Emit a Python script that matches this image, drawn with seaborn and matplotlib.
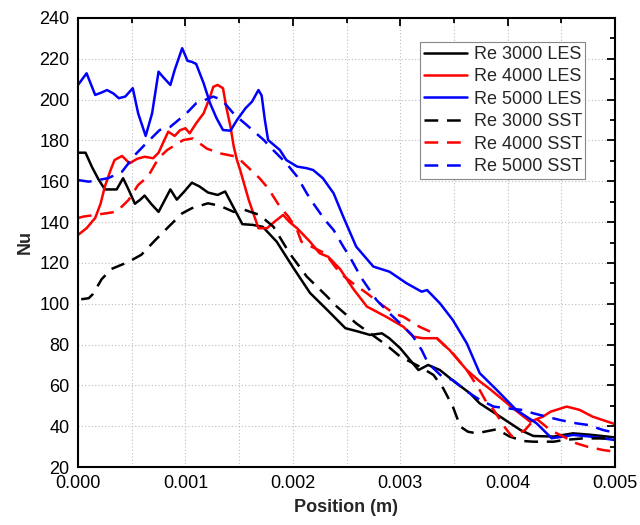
import numpy as np
import pandas as pd
import matplotlib
matplotlib.use("Agg")
import matplotlib.pyplot as plt
from matplotlib.ticker import MultipleLocator, FormatStrFormatter
from matplotlib.lines import Line2D
import seaborn as sns

# ---------------- data ----------------
labels = ["Re 3000 LES", "Re 4000 LES", "Re 5000 LES",
          "Re 3000 SST", "Re 4000 SST", "Re 5000 SST"]

x_3000_les = [0, 0.00007, 0.00013, 0.00019, 0.00025, 0.00031, 0.00036, 0.00042, 0.00047, 0.00053,
              0.00058, 0.00062, 0.00068, 0.00075, 0.00081, 0.00086, 0.00092, 0.00099, 0.00106, 0.00113,
              0.00121, 0.0013, 0.00137, 0.00143, 0.00148, 0.00153, 0.00163, 0.00172, 0.00185, 0.002,
              0.00216, 0.00232, 0.00249, 0.0026, 0.00272, 0.00283, 0.0029, 0.003, 0.00317, 0.00326,
              0.00337, 0.0035, 0.00365, 0.00374, 0.00393, 0.00412, 0.00424, 0.00443, 0.00461, 0.00479, 0.005]
y_3000_les = [174, 174, 167, 161, 156, 156, 156, 161.5, 156, 149,
              151, 153, 149, 145, 151, 156, 151, 155, 159.3, 157.5,
              154.5, 153.3, 155, 149, 144, 139, 138.6, 137.7, 130.4, 118,
              105.3, 97, 88, 86.5, 84.7, 85.5, 83, 78.2, 67.5, 70,
              67.5, 62, 56.1, 51.2, 44.7, 38.1, 35.2, 34.9, 36.5, 35.7, 34.5]

x_4000_les = [0, 0.00008, 0.00016, 0.00021, 0.00025, 0.0003, 0.00034, 0.00041, 0.00048, 0.00055,
              0.00062, 0.0007, 0.00075, 0.00084, 0.0009, 0.00095, 0.001, 0.00104, 0.0011, 0.00117,
              0.00123, 0.00126, 0.0013, 0.00135, 0.00138, 0.00142, 0.00145, 0.00148, 0.00151, 0.00159,
              0.00168, 0.00176, 0.00183, 0.00191, 0.00197, 0.00204, 0.00216, 0.00225, 0.00233, 0.00244,
              0.00256, 0.00269, 0.00287, 0.00303, 0.00312, 0.00321, 0.00334, 0.00346, 0.00362, 0.00374,
              0.00384, 0.00405, 0.00421, 0.00433, 0.0044, 0.00455, 0.00467, 0.00479, 0.005]
y_4000_les = [133.7, 137, 142, 149, 157.4, 165, 170.4, 172.4, 168.8, 171,
              172, 171.3, 174, 184.3, 182.2, 185, 186, 183.5, 188.4, 193.3,
              201.5, 206.3, 207.2, 205.6, 196.5, 186.7, 177, 170.4, 165.5, 150.8,
              137, 137, 140.2, 143.5, 140, 137, 130.4, 124.7, 123, 117,
              107.5, 98.6, 93.6, 88.7, 83.9, 83.1, 83.1, 77.3, 67.5, 62,
              58, 48.8, 42.2, 44.7, 47.1, 49.6, 48, 44.7, 41]

x_5000_les = [0, 0.00008, 0.00016, 0.00022, 0.00027, 0.00033, 0.00038, 0.00044, 0.00051, 0.00056,
              0.00063, 0.00069, 0.00075, 0.00079, 0.00086, 0.0009, 0.00097, 0.00102, 0.00106, 0.0011,
              0.00117, 0.00123, 0.00129, 0.00135, 0.00142, 0.00148, 0.00156, 0.00162, 0.00168, 0.00171,
              0.00174, 0.00177, 0.00188, 0.00194, 0.00204, 0.00213, 0.00219, 0.00228, 0.00238, 0.00247,
              0.00259, 0.00275, 0.0029, 0.00306, 0.0032, 0.00325, 0.00337, 0.00349, 0.00362, 0.00374,
              0.0039, 0.00408, 0.00427, 0.00441, 0.00452, 0.00461, 0.00477, 0.005]
y_5000_les = [207.2, 212.9, 202.3, 203.5, 204.7, 203, 200.7, 201.5, 205.6, 193.3,
              182.2, 193.3, 213.7, 211.2, 207.2, 214.5, 225.2, 219, 218.5, 217.5,
              208, 198.2, 190.9, 185.1, 184.8, 190, 195.8, 199, 204.7, 202,
              190, 180.2, 175.3, 170.4, 167.2, 166.4, 165.5, 161.5, 154.1, 142.6,
              128, 118.2, 115.7, 110, 105.9, 106.7, 100.2, 92, 80.6, 66,
              57.7, 48, 41.4, 34.1, 34.9, 35.7, 34.9, 33.2]

x_3000_sst = [0.00003, 0.0001, 0.00014, 0.00022, 0.00031, 0.00047, 0.00059, 0.00072, 0.00083, 0.00097,
              0.00106, 0.00121, 0.00132, 0.00145, 0.00155, 0.00169, 0.00182, 0.00197, 0.00213, 0.00232,
              0.00241, 0.00259, 0.00287, 0.003, 0.00318, 0.00331, 0.0034, 0.00349, 0.00356, 0.00363,
              0.00371, 0.0039, 0.00402, 0.00415, 0.00424, 0.00443, 0.00452, 0.0047, 0.005]
y_3000_sst = [102.2, 102.7, 104.8, 112, 117, 120.5, 124, 131.2, 137, 144.3,
              146.8, 149.2, 148, 145, 146, 143.5, 137.7, 124.7, 113.3, 103.5,
              98.6, 90.4, 79.8, 74.1, 69.2, 65.1, 58.6, 49.6, 39.8, 37.3,
              36.5, 38.5, 34.9, 32.7, 32.4, 32.4, 33.2, 34, 34]

x_4000_sst = [0, 0.00005, 0.00016, 0.00036, 0.00047, 0.00056, 0.00065, 0.00075, 0.00083, 0.00098,
              0.00107, 0.0012, 0.00132, 0.00148, 0.00169, 0.00177, 0.00188, 0.00196, 0.00204, 0.00208,
              0.0023, 0.00244, 0.00256, 0.00269, 0.00281, 0.00294, 0.00303, 0.00318, 0.00328, 0.00349,
              0.00362, 0.00374, 0.0038, 0.00387, 0.00398, 0.00404, 0.00416, 0.00426, 0.0044, 0.00449,
              0.00464, 0.00474, 0.00489, 0.005]
y_4000_sst = [142, 142.7, 143.5, 145.1, 150.8, 158.2, 162.2, 171.3, 175.3, 180.2,
              181, 176, 173.7, 172, 161.5, 156.6, 147.5, 142.6, 136.1, 130.4,
              124.7, 114.9, 110, 105.1, 100.2, 95.3, 93.6, 88.7, 86.3, 75.7,
              67.5, 57.7, 52, 48, 39, 35, 38, 44, 38, 35.7,
              31.6, 30, 28.3, 27.5]

x_5000_sst = [0, 0.0001, 0.00028, 0.00041, 0.00053, 0.00062, 0.00076, 0.00086, 0.00101, 0.0011,
              0.00118, 0.00126, 0.00134, 0.00146, 0.00157, 0.00173, 0.0018, 0.00194, 0.00204, 0.00213,
              0.00219, 0.0023, 0.00238, 0.00247, 0.00253, 0.00264, 0.00278, 0.0029, 0.003, 0.00311,
              0.0032, 0.00326, 0.00339, 0.00349, 0.00362, 0.00374, 0.00387, 0.00399, 0.00415, 0.00424,
              0.00436, 0.00449, 0.00464, 0.00475, 0.00489, 0.005]
y_5000_sst = [160.6, 159.8, 161.5, 164.7, 172.9, 177.8, 185.1, 186.7, 193.3, 198.2,
              199.8, 201.5, 199.8, 192.5, 187.6, 180.2, 176.2, 168.8, 162.3, 154.1,
              149.2, 141, 136.1, 128, 123, 112.5, 101.8, 95.3, 90.4, 84.7,
              77.3, 70.8, 64.3, 62.6, 57, 53, 49.6, 48.8, 47.9, 46.3,
              44.7, 43, 41.4, 40.6, 38.1, 36.8]

colors = ["#000000", "#FF0000", "#0000FF", "#000000", "#FF0000", "#0000FF"]
xticks_major = [0.000, 0.001, 0.002, 0.003, 0.004, 0.005]
yticks_major = list(range(20, 241, 20))

# ---------------- build long table ----------------
series_x = [x_3000_les, x_4000_les, x_5000_les, x_3000_sst, x_4000_sst, x_5000_sst]
series_y = [y_3000_les, y_4000_les, y_5000_les, y_3000_sst, y_4000_sst, y_5000_sst]
frames = []
for lab, xs, ys in zip(labels, series_x, series_y):
    frames.append(pd.DataFrame({"Position (m)": xs, "Nu": ys, "series": lab}))
df = pd.concat(frames, ignore_index=True)

# ---------------- style ----------------
sns.set_style("white")
plt.rcParams["font.family"] = ["Liberation Sans", "DejaVu Sans"]
plt.rcParams["font.size"] = 13
plt.rcParams["lines.solid_joinstyle"] = "round"
plt.rcParams["lines.dash_joinstyle"] = "round"
plt.rcParams["lines.solid_capstyle"] = "round"

fig = plt.figure(figsize=(6.4, 5.25), dpi=100)
ax = fig.add_axes([78 / 640, 1 - 467 / 525, (615 - 78) / 640, (467 - 18) / 525])

palette = dict(zip(labels, colors))
dash_map = {lab: ("" if "LES" in lab else (5.5, 3.5)) for lab in labels}

sns.lineplot(data=df, x="Position (m)", y="Nu", hue="series", style="series",
             hue_order=labels, style_order=labels, palette=palette, dashes=dash_map,
             estimator=None, sort=False, linewidth=1.8, ax=ax, legend=False)

ax.set_xlim(0, 0.005)
ax.set_ylim(20, 240)
ax.set_xticks(xticks_major)
ax.xaxis.set_major_formatter(FormatStrFormatter("%.3f"))
ax.xaxis.set_minor_locator(MultipleLocator(0.0005))
ax.set_yticks(yticks_major)
ax.yaxis.set_minor_locator(MultipleLocator(10))

ax.grid(False)
ax.xaxis.grid(True, which="both", linestyle=(0, (1, 2)), color="#bdbdbd", linewidth=0.8)
ax.yaxis.grid(True, which="major", linestyle=(0, (1, 2)), color="#bdbdbd", linewidth=0.8)
ax.set_axisbelow(True)

for s in ax.spines.values():
    s.set_visible(True)
    s.set_linewidth(1.5)
    s.set_color("black")

ax.tick_params(which="both", direction="in", top=True, right=True, width=1.3, colors="black",
               labelsize=13)
ax.tick_params(which="major", length=6, pad=6)
ax.tick_params(which="minor", length=3.5)

ax.set_xlabel("Position (m)", fontsize=13, fontweight="bold", labelpad=5)
ax.set_ylabel("Nu", fontsize=13, fontweight="bold", labelpad=4)

# legend
handles = []
for lab, c in zip(labels, colors):
    if "LES" in lab:
        handles.append(Line2D([], [], color=c, lw=1.8, linestyle="-"))
    else:
        handles.append(Line2D([], [], color=c, lw=1.8, linestyle=(0, (5.5, 3.5))))
leg = ax.legend(handles, labels, loc="upper right", bbox_to_anchor=(0.945, 0.946),
                borderaxespad=0, fancybox=False, framealpha=1, edgecolor="#888888",
                fontsize=13, handlelength=2.4, handletextpad=0.35, labelspacing=0.3,
                borderpad=0.2)
leg.get_frame().set_linewidth(0.8)

fig.savefig("out.png", dpi=100)
